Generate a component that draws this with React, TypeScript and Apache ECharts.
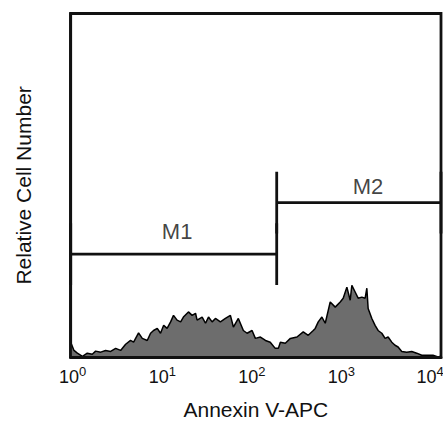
import React, { useEffect, useRef } from "react";
import * as echarts from "echarts";

// Histogram: Annexin V-APC intensity (log scale) vs relative cell count
const annexinIntensity = [
  1.0, 1.085, 1.18, 1.34, 1.51, 1.71, 1.86, 2.11, 2.38, 2.7, 3.06, 3.46, 3.92, 4.43, 4.78, 5.41,
  5.93, 6.71, 7.29, 7.85, 8.61, 9.34, 10.1, 11.0, 12.0, 12.9, 14.1, 15.4, 16.5, 18.7, 20.5, 22.3,
  23.2, 26.3, 28.6, 30.8, 33.7, 36.6, 41.4, 46.9, 53.1, 57.2, 64.7, 73.3, 80.4, 91.0, 98.8, 112,
  127, 143, 162, 175, 184, 208, 236, 278, 325, 368, 417, 438, 472, 517, 562, 636,
  720, 815, 878, 962, 1045, 1089, 1182, 1274, 1396, 1516, 1581, 1633, 1790, 1941, 2092, 2294,
  2490, 2683, 2941, 3190, 3439, 3768, 4266, 4830, 5469, 6192, 7244, 8198, 9282, 10000,
];
const relativeCount = [
  4.4, 2.0, 1.2, 0.3, 1.2, 0.9, 1.8, 1.5, 2.0, 1.7, 2.6, 2.0, 3.8, 4.9, 4.4, 7.1,
  5.5, 4.9, 7.0, 7.8, 8.4, 7.0, 9.3, 8.4, 10.3, 12.2, 10.8, 10.3, 11.7, 13.2, 12.2, 12.8,
  10.8, 11.7, 9.9, 11.7, 10.3, 11.3, 10.3, 11.3, 12.2, 8.8, 11.3, 7.8, 7.0, 7.8, 5.5, 5.9,
  4.9, 4.4, 2.6, 2.6, 4.4, 4.1, 5.5, 5.9, 7.4, 6.4, 7.8, 8.4, 10.3, 11.7, 9.9, 16.1,
  14.6, 16.1, 17.2, 20.4, 16.6, 20.9, 19.0, 17.2, 17.5, 17.2, 20.1, 14.2, 11.3, 9.3, 7.8, 7.0,
  5.5, 5.9, 4.4, 3.5, 3.0, 1.7, 1.5, 1.7, 1.2, 0.6, 0.6, 0.6, 0.1, 0.3,
];

// Tick label exponents (10^0 ... 10^4)
const tickExponents = [0, 1, 2, 3, 4];

// Gates (markers)
const gateNames = ["M1", "M2"];
const gateFrom = [1, 168];
const gateTo = [168, 10000];
const gateLevel = [30, 45];
const gateTickHalf = 9;
const gateLabelX = [14.1, 1626];
const gateLabelY = [36.6, 49.7];

const FONT = "Liberation Sans, Arial, Helvetica, sans-serif";
const INK = "#111111";
// horizontal nudge of each tick label in px (reference labels drift left)
const LABEL_SHIFT = [2, -1, -4, -7, -11];

export default function App() {
  const ref = useRef<HTMLDivElement>(null);

  useEffect(() => {
    if (!ref.current) return;
    const chart = echarts.init(ref.current, undefined, { renderer: "svg" });

    const histData = annexinIntensity.map((x, i) => [x, relativeCount[i]]);

    const gateSeries: any[] = [];
    gateNames.forEach((name, i) => {
      const segs = [
        [[gateFrom[i], gateLevel[i]], [gateTo[i], gateLevel[i]]],
        [[gateFrom[i], gateLevel[i] - gateTickHalf], [gateFrom[i], gateLevel[i] + gateTickHalf]],
        [[gateTo[i], gateLevel[i] - gateTickHalf], [gateTo[i], gateLevel[i] + gateTickHalf]],
      ];
      segs.forEach((seg, j) => {
        gateSeries.push({
          name: `${name}-${j}`,
          type: "line",
          data: seg,
          symbol: "none",
          silent: true,
          z: 5,
          lineStyle: { color: INK, width: 2.8, cap: "butt" },
        });
      });
    });

    const rich: Record<string, any> = {};
    tickExponents.forEach((e) => {
      const d = LABEL_SHIFT[e] || 0;
      rich[`b${e}`] = {
        fontSize: 18,
        fontFamily: FONT,
        color: INK,
        padding: [0, 0, 0, d > 0 ? 2 * d : 0],
      };
      rich[`s${e}`] = {
        fontSize: 13,
        fontFamily: FONT,
        color: INK,
        padding: [0, d < 0 ? -2 * d : 0, 10, 0],
      };
    });

    chart.setOption({
      animation: false,
      backgroundColor: "#ffffff",
      textStyle: { fontFamily: FONT },
      grid: {
        left: 70.7,
        right: 2,
        top: 13.5,
        bottom: 63.7,
        show: true,
        borderColor: INK,
        borderWidth: 2.8,
        backgroundColor: "transparent",
        outerBoundsMode: "none",
        containLabel: false,
      },
      xAxis: {
        type: "log",
        logBase: 10,
        min: 1,
        max: 10000,
        z: 10,
        axisLine: { show: true, lineStyle: { color: INK, width: 2.8 } },
        axisTick: { show: false },
        splitLine: { show: false },
        axisLabel: {
          margin: 8,
          color: INK,
          fontFamily: FONT,
          fontSize: 18,
          showMinLabel: true,
          showMaxLabel: true,
          formatter: (v: number) => {
            const e = Math.round(Math.log10(v));
            return `{b${e}|10}{s${e}|${e}}`;
          },
          rich,
        },
        name: "Annexin V-APC",
        nameLocation: "middle",
        nameGap: 43,
        nameTextStyle: { fontSize: 21, lineHeight: 19, color: INK, fontFamily: FONT },
      },
      yAxis: {
        type: "value",
        min: 0,
        max: 100,
        z: 10,
        axisLine: { show: true, lineStyle: { color: INK, width: 2.8 } },
        axisTick: { show: false },
        axisLabel: { show: false },
        splitLine: { show: false },
        name: "Relative Cell Number",
        nameLocation: "middle",
        nameGap: 37,
        nameTextStyle: { fontSize: 21, color: INK, fontFamily: FONT, padding: [0, 0, 0, 0] },
      },
      series: [
        {
          name: "Annexin V-APC",
          type: "line",
          data: histData,
          symbol: "none",
          silent: true,
          z: 2,
          lineStyle: { color: "#000000", width: 1.5 },
          areaStyle: { color: "#6d6d6d", opacity: 1 },
        },
        ...gateSeries,
        {
          name: "gate labels",
          type: "scatter",
          data: gateNames.map((n, i) => ({ name: n, value: [gateLabelX[i], gateLabelY[i]] })),
          symbolSize: 0,
          silent: true,
          z: 6,
          itemStyle: { color: "rgba(0,0,0,0)" },
          label: {
            show: true,
            position: "inside",
            formatter: (p: any) => p.name,
            fontSize: 22,
            fontFamily: FONT,
            color: INK,
          },
        },
      ],
    });

    return () => chart.dispose();
  }, []);

  return <div ref={ref} style={{ width: 443, height: 421, position: "absolute", left: 0, top: 0 }} />;
}
